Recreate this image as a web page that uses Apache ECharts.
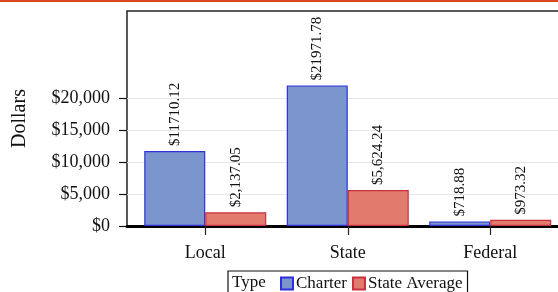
<!DOCTYPE html>
<html>
<head>
<meta charset="utf-8">
<title>Revenue by source</title>
<script src="https://cdn.jsdelivr.net/npm/echarts@6/dist/echarts.min.js"></script>
<style>
  html, body { margin: 0; padding: 0; background: #fff; }
  #chart { width: 558px; height: 292px; }
</style>
</head>
<body>
<div id="chart"></div>
<script>
var categories = ['Local', 'State', 'Federal'];
var charter = [11710.12, 21971.78, 718.88];
var stateAvg = [2137.05, 5624.24, 973.32];
var charterLabels = ['$11710.12', '$21971.78', '$718.88'];
var stateAvgLabels = ['$2,137.05', '$5,624.24', '$973.32'];
var yTicks = [0, 5000, 10000, 15000, 20000];

var serif = '"Liberation Serif", "DejaVu Serif", serif';

function money(v) {
  return '$' + v.toLocaleString('en-US');
}

var chart = echarts.init(document.getElementById('chart'));
chart.setOption({
  animation: false,
  textStyle: { fontFamily: serif },
  graphic: [{
    type: 'rect',
    shape: { x: 0, y: 0, width: 558, height: 2 },
    style: { fill: '#d9481c' }
  }],
  title: {
    text: 'Type',
    left: 232, top: 274,
    padding: 0,
    textStyle: { fontFamily: serif, fontSize: 17, fontWeight: 'normal', color: '#111' }
  },
  legend: {
    left: 228, top: 271,
    padding: [4, 5, 8, 52],
    borderColor: '#111', borderWidth: 1.2,
    itemWidth: 12, itemHeight: 12, itemGap: 5,
    icon: 'rect',
    textStyle: { fontFamily: serif, fontSize: 17, color: '#111', padding: [2, 0, 0, -2] },
    data: ['Charter', 'State Average']
  },
  // frame (bordered, runs past the right edge), y ticks, bars
  grid: [
    { left: 127, top: 11, width: 441, bottom: 66, outerBoundsMode: 'none',
      show: true, borderColor: '#222', borderWidth: 1.5, backgroundColor: 'transparent' },
    { left: 127, top: 98, width: 441, bottom: 66, outerBoundsMode: 'none' },
    { left: 134, top: 98, width: 427.5, bottom: 66, outerBoundsMode: 'none' }
  ],
  xAxis: [
    { gridIndex: 0, type: 'value', min: 0, max: 1,
      axisLine: { show: true, onZero: false, lineStyle: { color: '#000', width: 3 } },
      axisTick: { show: false }, axisLabel: { show: false }, splitLine: { show: false } },
    { gridIndex: 1, type: 'value', min: 0, max: 1, show: false },
    { gridIndex: 2, type: 'category', data: categories,
      axisLine: { show: false },
      axisTick: { show: true, alignWithLabel: true, length: 9, lineStyle: { color: '#222', width: 1.2 } },
      axisLabel: { margin: 18, fontFamily: serif, fontSize: 18, color: '#111' } }
  ],
  yAxis: [
    { gridIndex: 0, type: 'value', min: 0, max: 1,
      name: 'Dollars', nameLocation: 'middle', nameGap: 97, nameRotate: 90,
      nameTextStyle: { fontFamily: serif, fontSize: 20, color: '#111' },
      axisLine: { show: false },
      axisTick: { show: false }, axisLabel: { show: false }, splitLine: { show: false } },
    { gridIndex: 1, type: 'value', min: yTicks[0], max: yTicks[yTicks.length - 1], interval: 5000,
      axisLine: { show: false },
      axisTick: { show: true, length: 8, lineStyle: { color: '#111', width: 1.2 } },
      axisLabel: { margin: 17, fontFamily: serif, fontSize: 18, color: '#111', formatter: money },
      splitLine: { show: true, lineStyle: { color: '#e6e6e6', width: 1 } } },
    { gridIndex: 2, type: 'value', min: yTicks[0], max: yTicks[yTicks.length - 1], show: false }
  ],
  series: [
    { name: 'Charter', type: 'bar', xAxisIndex: 2, yAxisIndex: 2,
      data: charter, barWidth: 61, barGap: 0, clip: false,
      itemStyle: { color: '#7b96cc', borderColor: '#2f2fdc', borderWidth: 1.2 },
      label: { show: true, position: 'top', rotate: 90, align: 'left', verticalAlign: 'middle',
        distance: 5, fontFamily: serif, fontSize: 15, color: '#111',
        formatter: function (p) { return charterLabels[p.dataIndex]; } } },
    { name: 'State Average', type: 'bar', xAxisIndex: 2, yAxisIndex: 2,
      data: stateAvg, barWidth: 61, barGap: 0, clip: false,
      itemStyle: { color: '#e07b6e', borderColor: '#c9303e', borderWidth: 1.2 },
      label: { show: true, position: 'top', rotate: 90, align: 'left', verticalAlign: 'middle',
        distance: 5, fontFamily: serif, fontSize: 15, color: '#111',
        formatter: function (p) { return stateAvgLabels[p.dataIndex]; } } }
  ]
});
</script>
</body>
</html>
